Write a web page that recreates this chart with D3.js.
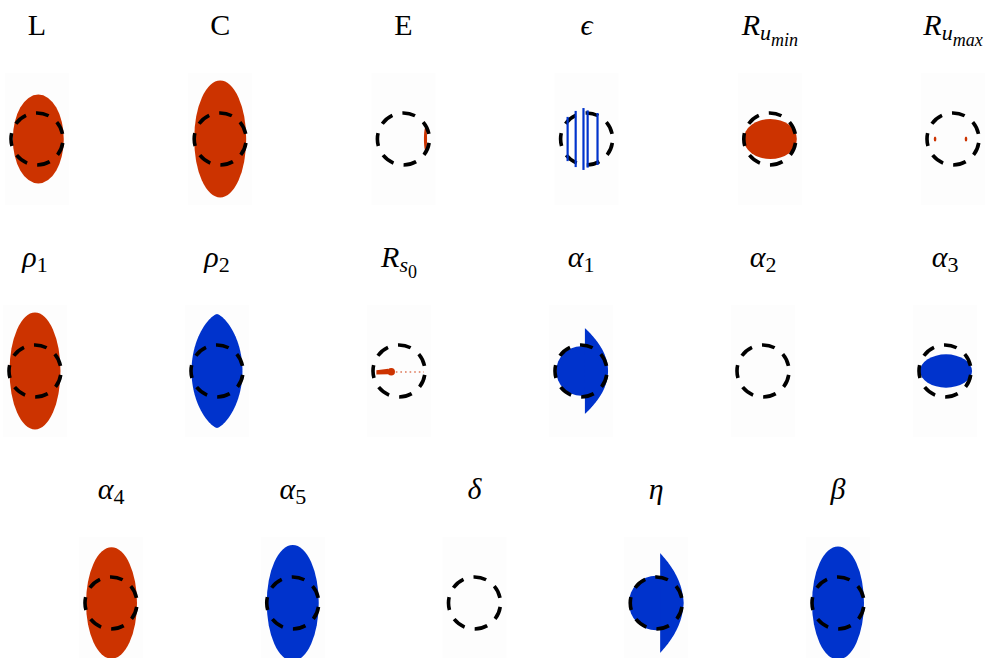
<!DOCTYPE html>
<html>
<head>
<meta charset="utf-8">
<script src="https://cdn.jsdelivr.net/npm/d3@7"></script>
<style>
  html, body { margin: 0; padding: 0; background: #fff; }
  svg { display: block; }
</style>
</head>
<body>
<svg id="chart" width="985" height="658"></svg>
<script>
// Parameter sensitivity panels: the dashed circle is the reference contour,
// the filled region shows how it changes when one parameter is perturbed
// (red = grows, blue = shrinks).

// Panel titles: base symbol, subscript, sub-subscript
const paramBase   = ["L", "C", "E", "ϵ", "R", "R", "ρ", "ρ", "R", "α", "α", "α", "α", "α", "δ", "η", "β"];
const paramSub    = ["", "", "", "", "u", "u", "1", "2", "s", "1", "2", "3", "4", "5", "", "", ""];
const paramSubSub = ["", "", "", "", "min", "max", "", "", "0", "", "", "", "", "", "", "", ""];

// Direction of the response for each parameter
const effectSign  = ["+", "+", "+", "-", "+", "+", "+", "-", "+", "-", "0", "-", "+", "-", "0", "-", "-"];
// Shape of the response region
const regionKind  = ["ellipse", "ellipse", "lens", "streaks", "ellipse", "specks", "ellipse", "lens", "arrow",
                     "horn", "none", "ellipse", "ellipse", "ellipse", "none", "horn", "ellipse"];
// Region half-width, half-height and horizontal shift, in units of the reference radius
const regionWidth  = [0.98, 1.00, 0.06, 0, 1.02, 0, 0.98, 0.98, 0, 0.89, 0, 1.00, 0.98, 1.00, 0, 0.89, 1.00];
const regionHeight = [1.71, 2.25, 0.45, 0, 0.77, 0, 2.25, 2.19, 0, 1.65, 0, 0.64, 2.14, 2.23, 0, 1.92, 2.17];
const regionShift  = [0.05, 0.00, 0.85, 0, 0.02, 0, 0.00, 0.00, 0, 0.15, 0, 0.04, 0.02, 0.00, 0, 0.15, 0.00];
// Radius of the rounded core behind the horn-shaped regions
const hornCore     = [0, 0, 0, 0, 0, 0, 0, 0, 0, 0.95, 0, 0, 0, 0, 0, 1.05, 0];

// ϵ panel: vertical streak positions and half-lengths
const streakX    = [-0.73, -0.42, -0.12, 0.04, 0.42];
const streakHalf = [0.85, 1.08, 1.19, 1.10, 1.00];
// R_umax panel: positions of the two small specks
const speckX = [-0.69, 0.50];
// R_s0 panel: arrow tail, arrow head, end of the dotted trace
const arrowSpan = [-0.87, -0.30, 0.96];

const svg = d3.select("#chart");

const unit = d3.scaleLinear().domain([0, 1]).range([0, 26]);
const rowOf = i => i < 6 ? 0 : (i < 12 ? 1 : 2);
const colOf = i => i < 12 ? i % 6 : i - 12;
const rowY = d3.scaleLinear().domain([0, 2]).range([139, 603]);
const colX = [
  d3.scaleLinear().domain([0, 5]).range([37, 953]),
  d3.scaleLinear().domain([0, 5]).range([35, 945]),
  d3.scaleLinear().domain([0, 4]).range([111, 838])
];
const color = d3.scaleOrdinal().domain(["+", "-", "0"]).range(["#cc3300", "#0033cc", "none"]);

const panels = paramBase.map((b, i) => ({
  i, base: b, sub: paramSub[i], subsub: paramSubSub[i],
  sign: effectSign[i], kind: regionKind[i],
  w: regionWidth[i], h: regionHeight[i], dx: regionShift[i], core: hornCore[i],
  cx: colX[rowOf(i)](colOf(i)), cy: rowY(rowOf(i))
}));

const closed = d3.line().curve(d3.curveLinearClosed);

// Ellipse-like outline; exponent a > 1 sharpens the top and bottom tips
function lensPath(cx, rx, ry, a) {
  const pts = d3.range(0, 2 * Math.PI, Math.PI / 120).map(t => {
    const c = Math.cos(t);
    return [unit(cx) + unit(rx) * Math.sign(c) * Math.pow(Math.abs(c), a), unit(ry) * Math.sin(t)];
  });
  return closed(pts);
}

// Right-hand horn: flat left edge at x = tip, bulging right with pointed ends
function hornPath(tip, w, h, a) {
  const pts = d3.range(-Math.PI / 2, Math.PI / 2 + 1e-9, Math.PI / 120).map(t =>
    [unit(tip) + unit(w) * Math.pow(Math.max(Math.cos(t), 0), a), unit(h) * Math.sin(t)]);
  return closed(pts);
}

const g = svg.selectAll("g.panel")
  .data(panels)
  .join("g")
  .attr("class", "panel")
  .attr("transform", d => `translate(${d.cx},${d.cy})`);

// faint panel backdrop
g.append("rect")
  .attr("x", -32).attr("y", -66)
  .attr("width", 64).attr("height", 132)
  .attr("fill", "#fdfdfd");

// response regions
g.filter(d => d.kind === "ellipse").append("ellipse")
  .attr("cx", d => unit(d.dx)).attr("cy", 0)
  .attr("rx", d => unit(d.w)).attr("ry", d => unit(d.h))
  .attr("fill", d => color(d.sign));

g.filter(d => d.kind === "lens").append("path")
  .attr("d", d => lensPath(d.dx, d.w, d.h, d.w < 0.2 ? 1 : 1.4))
  .attr("fill", d => color(d.sign));

const horn = g.filter(d => d.kind === "horn");
horn.append("circle")
  .attr("r", d => unit(d.core))
  .attr("fill", d => color(d.sign));
horn.append("path")
  .attr("d", d => hornPath(d.dx, d.w, d.h, 2.0))
  .attr("fill", d => color(d.sign));

g.filter(d => d.kind === "specks").selectAll("ellipse")
  .data(d => speckX.map(x => ({ x, sign: d.sign })))
  .join("ellipse")
  .attr("cx", s => unit(s.x)).attr("cy", 0)
  .attr("rx", 1.3).attr("ry", 2.6)
  .attr("fill", s => color(s.sign));

const arrow = g.filter(d => d.kind === "arrow");
arrow.append("line")
  .attr("x1", unit(arrowSpan[1])).attr("x2", unit(arrowSpan[2]))
  .attr("y1", 1).attr("y2", 1)
  .attr("stroke", d => color(d.sign))
  .attr("stroke-opacity", 0.65)
  .attr("stroke-width", 1.3)
  .attr("stroke-dasharray", "1.6 3");
arrow.append("path")
  .attr("d", () => {
    const t = unit(arrowSpan[0]), hd = unit(arrowSpan[1]);
    return closed([[t, -0.8], [hd - 3, -2.2], [hd - 3, 3.2], [t, 3.4]]);
  })
  .attr("fill", d => color(d.sign));
arrow.append("circle")
  .attr("cx", unit(arrowSpan[1])).attr("cy", 0.8)
  .attr("r", 3.8)
  .attr("fill", d => color(d.sign));

// dashed reference contour
const circ = 2 * Math.PI * unit(1);
const period = circ / 7;
g.append("circle")
  .attr("r", unit(1))
  .attr("fill", "none")
  .attr("stroke", "#000")
  .attr("stroke-width", 3.6)
  .attr("stroke-dasharray", `${period * 0.56} ${period * 0.44}`)
  .attr("stroke-dashoffset", -4);

// streaks sit on top of the contour
g.filter(d => d.kind === "streaks").selectAll("line.streak")
  .data(d => streakX.map((x, k) => ({ x, half: streakHalf[k], sign: d.sign })))
  .join("line")
  .attr("class", "streak")
  .attr("x1", s => unit(s.x)).attr("x2", s => unit(s.x))
  .attr("y1", s => -unit(s.half)).attr("y2", s => unit(s.half))
  .attr("stroke", s => color(s.sign))
  .attr("stroke-width", 2.2);

// titles
const upright = new Set(["L", "C", "E"]);
const styleOf = s => /^[0-9]+$/.test(s) ? "normal" : "italic";
const title = g.append("text")
  .attr("y", -104)
  .attr("text-anchor", "middle")
  .attr("font-family", "'Liberation Serif', 'DejaVu Serif', serif")
  .attr("font-size", 30)
  .attr("fill", "#000");
title.append("tspan")
  .attr("font-style", d => upright.has(d.base) ? "normal" : "italic")
  .text(d => d.base);
title.filter(d => d.sub).append("tspan")
  .attr("dy", 5)
  .attr("font-size", 22)
  .attr("font-style", d => styleOf(d.sub))
  .text(d => d.sub);
title.filter(d => d.subsub).append("tspan")
  .attr("dy", 6)
  .attr("font-size", 18)
  .attr("font-style", d => styleOf(d.subsub))
  .text(d => d.subsub);
</script>
</body>
</html>
